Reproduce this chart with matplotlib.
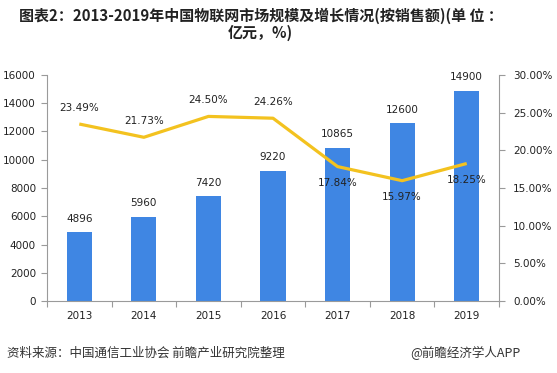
import matplotlib.pyplot as plt
from matplotlib.ticker import FuncFormatter, MultipleLocator

plt.rcParams['font.family'] = ['Noto Sans CJK SC', 'DejaVu Sans']

years = ['2013', '2014', '2015', '2016', '2017', '2018', '2019']
market_size = [4896, 5960, 7420, 9220, 10865, 12600, 14900]
growth = [23.49, 21.73, 24.50, 24.26, 17.84, 15.97, 18.25]
# label above (+1) or below (-1) the line point
growth_label_side = [1, 1, 1, 1, -1, -1, -1]

bar_color = '#3f86e3'
line_color = '#f3c21f'
text_color = '#222222'
spine_color = '#9a9a9a'

fig = plt.figure(figsize=(5.57, 3.73), dpi=100)
ax = fig.add_axes([0.0844, 0.193, 0.8115, 0.606])
ax2 = ax.twinx()

x = list(range(len(years)))
ax.bar(x, market_size, width=0.39, color=bar_color, zorder=2)
for xi, v in zip(x, market_size):
    ax.annotate(str(v), (xi, v), xytext=(0, 6), textcoords='offset points',
                ha='center', va='bottom', fontsize=7.5, color=text_color,
                family='DejaVu Sans')

ax2.plot(x, growth, color=line_color, lw=2.3, zorder=3, solid_capstyle='butt')
for xi, g, side in zip(x, growth, growth_label_side):
    ax2.annotate(f'{g:.2f}%', (xi, g), xytext=(0, 8 * side), textcoords='offset points',
                 ha='center', va='bottom' if side > 0 else 'top', fontsize=7.5,
                 color=text_color, family='DejaVu Sans')

ax.set_xlim(-0.5, 6.5)
ax.set_ylim(0, 16000)
ax2.set_ylim(0, 30)
ax.yaxis.set_major_locator(MultipleLocator(2000))
ax2.yaxis.set_major_locator(MultipleLocator(5))
ax2.yaxis.set_major_formatter(FuncFormatter(lambda v, p: f'{v:.2f}%'))

ax.set_xticks([i - 0.5 for i in range(len(years) + 1)])
ax.set_xticklabels([])
ax.set_xticks(x, minor=True)
ax.set_xticklabels(years, minor=True)
ax.tick_params(axis='x', which='minor', length=0, pad=7, labelsize=7.5, colors=text_color)
ax.tick_params(axis='x', which='major', length=4, color=spine_color)
ax.tick_params(axis='y', length=4, color=spine_color, labelsize=7.5, labelcolor=text_color, pad=4)
ax2.tick_params(axis='y', length=4, color=spine_color, labelsize=7.5, labelcolor=text_color, pad=6)
for lbl in ax.get_xticklabels(minor=True) + ax.get_yticklabels() + ax2.get_yticklabels():
    lbl.set_family('DejaVu Sans')

for a in (ax, ax2):
    a.spines['top'].set_visible(False)
    for s in ('left', 'right', 'bottom'):
        a.spines[s].set_color(spine_color)
        a.spines[s].set_linewidth(0.8)
ax.spines['right'].set_visible(False)
ax2.spines['left'].set_visible(False)
ax2.spines['bottom'].set_visible(False)

fig.text(0.468, 0.98, '图表2：2013-2019年中国物联网市场规模及增长情况(按销售额)(单 位 ：\n亿元，%)',
         ha='center', va='top', fontsize=10.8, fontweight='bold', color='#222222',
         linespacing=1.1)

fig.text(0.012, 0.054, '资料来源：中国通信工业协会 前瞻产业研究院整理', ha='left', va='center',
         fontsize=9, color='#333333')
fig.text(0.934, 0.054, '@前瞻经济学人APP', ha='right', va='center',
         fontsize=9, color='#333333')

fig.savefig('out.png', dpi=100)
